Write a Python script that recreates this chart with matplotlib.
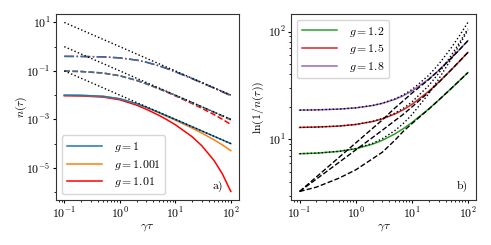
import matplotlib
matplotlib.use("Agg")
import matplotlib.pyplot as plt
from matplotlib.ticker import FixedLocator, NullFormatter

plt.rcParams["font.family"] = "serif"
plt.rcParams["font.serif"] = ["cmr10"]
plt.rcParams["mathtext.fontset"] = "cm"
plt.rcParams["axes.formatter.use_mathtext"] = True
plt.rcParams["font.size"] = 8.5
plt.rcParams["axes.linewidth"] = 0.8
plt.rcParams["axes.edgecolor"] = "#333333"
plt.rcParams["xtick.major.size"] = 2.5
plt.rcParams["ytick.major.size"] = 2.5
plt.rcParams["xtick.minor.size"] = 1.5
plt.rcParams["ytick.minor.size"] = 1.5
plt.rcParams["xtick.major.pad"] = 2
plt.rcParams["ytick.major.pad"] = 1.5

# --- panel a): n(tau) ---
tau = [0.1, 0.2, 0.5, 1, 2, 3, 5, 7, 10, 20, 30, 50, 70, 100]

n_solid_g1 = [0.00995, 0.00981, 0.00894, 0.00707, 0.00447, 0.00316, 0.00196,
              0.00141, 0.000995, 0.0005, 0.000333, 0.0002, 0.000143, 0.0001]
n_solid_g1001 = [0.00995, 0.00981, 0.00894, 0.00707, 0.00447, 0.00316, 0.00190,
                 0.00135, 0.00093, 0.00044, 0.000272, 0.000143, 0.0000895, 0.0000512]
n_solid_g101 = [0.00941, 0.00923, 0.00831, 0.00642, 0.00388, 0.00262, 0.00149,
                0.000979, 0.000603, 0.000194, 0.0000819, 0.00002, 0.00000583, 0.00000106]

n_dash_g1 = [0.098, 0.0945, 0.0817, 0.063, 0.0409, 0.0296, 0.0189,
             0.0138, 0.00979, 0.00496, 0.00331, 0.00199, 0.00142, 0.000998]
n_dash_g1001 = [0.098, 0.0945, 0.0817, 0.063, 0.0409, 0.0296, 0.0189,
                0.0138, 0.00972, 0.00489, 0.00324, 0.00192, 0.00135, 0.000934]
n_dash_g101 = [0.098, 0.0944, 0.0815, 0.0627, 0.0405, 0.0292, 0.01845,
               0.01334, 0.00933, 0.0045, 0.00287, 0.00157, 0.00102, 0.000618]

n_dd_g1 = [0.398, 0.394, 0.378, 0.344, 0.279, 0.2286, 0.1634,
           0.1255, 0.0924, 0.0485, 0.0328, 0.01985, 0.0142, 0.00996]
n_dd_g101 = [0.398, 0.394, 0.378, 0.344, 0.279, 0.2286, 0.1634,
             0.1255, 0.0919, 0.0480, 0.0323, 0.0194, 0.0137, 0.00947]

tau_asym = [0.1, 100]
asym_hi = [10, 0.01]
asym_mid = [1, 0.001]
asym_lo = [0.1, 0.0001]

n_major_ticks = [1e-5, 1e-3, 1e-1, 1e1]
n_minor_ticks = [1e-6, 1e-4, 1e-2, 1e0]

# --- panel b): ln(1/n(tau)) ---
L_g12 = [7.35, 7.44, 7.72, 8.16, 9.01, 9.79, 11.22, 12.52, 14.27, 19.1, 23.03, 29.47, 34.8, 41.6]
L_g15 = [12.89, 12.99, 13.26, 13.72, 14.61, 15.48, 17.16, 18.76, 21.04, 27.83, 33.74, 43.9, 52.62, 63.98]
L_g18 = [18.65, 18.76, 19.06, 19.57, 20.57, 21.55, 23.47, 25.32, 27.99, 36.14, 43.44, 56.25, 67.44, 82.21]

L_dash_g12 = [3.28, 3.6, 4.35, 5.2, 6.6, 7.6, 9.8, 11.8, 13.95, 19.0, 23.03, 29.47, 34.8, 41.6]
L_dash_g15 = [3.28, 4.28, 6.09, 7.96, 10.39, 12.16, 14.9, 17.0, 19.9, 27.3, 33.6, 43.9, 52.62, 63.98]
L_dash_g18 = [3.28, 4.48, 6.77, 9.24, 12.63, 15.15, 19.5, 22.7, 26.7, 35.8, 43.4, 56.25, 67.44, 82.21]

L_dot_g12 = [7.35, 7.44, 7.73, 8.21, 9.17, 10.13, 12.05, 13.96, 16.84, 26.43, 36.02, 55.2, 74.38, 103.15]
L_dot_g15 = [12.89, 12.99, 13.27, 13.73, 14.67, 15.6, 17.47, 19.33, 22.13, 31.46, 40.79, 59.45, 78.11, 106.1]
L_dot_g18 = [18.65, 18.76, 19.07, 19.58, 20.61, 21.64, 23.7, 25.76, 28.85, 39.15, 49.45, 70.05, 90.65, 121.55]

BLUE, ORANGE, RED = "#1f77b4", "#ff7f0e", "#ff0000"
GREEN, RED2, PURPLE = "#2ca02c", "#d62728", "#9467bd"
lw = 1.1

fig = plt.figure(figsize=(4.91, 2.45), dpi=100)
ax1 = fig.add_axes([0.114, 0.184, 0.373, 0.759])
ax2 = fig.add_axes([0.593, 0.184, 0.377, 0.759])

# panel a
ax1.plot(tau, n_solid_g101, color=RED, lw=lw, zorder=2)
ax1.plot(tau, n_solid_g1001, color=ORANGE, lw=lw, zorder=2)
ax1.plot(tau, n_solid_g1, color=BLUE, lw=lw, zorder=3)
ax1.plot(tau, n_dash_g101, color=RED, lw=lw, ls="--", zorder=2)
ax1.plot(tau, n_dash_g1001, color=ORANGE, lw=lw, ls="--", zorder=2)
ax1.plot(tau, n_dash_g1, color=BLUE, lw=lw, ls="--", zorder=3)
ax1.plot(tau, n_dd_g101, color=RED, lw=lw, ls="-.", zorder=2)
ax1.plot(tau, n_dd_g1, color=BLUE, lw=lw, ls="-.", zorder=3)
for yy in (asym_hi, asym_mid, asym_lo):
    ax1.plot(tau_asym, yy, color="black", lw=1.0, ls=":", zorder=4)
ax1.plot([], [], color=BLUE, lw=lw, label=r"$g=1$")
ax1.plot([], [], color=ORANGE, lw=lw, label=r"$g=1.001$")
ax1.plot([], [], color=RED, lw=lw, label=r"$g=1.01$")
ax1.set_xscale("log")
ax1.set_yscale("log")
ax1.yaxis.set_major_locator(FixedLocator(n_major_ticks))
ax1.yaxis.set_minor_locator(FixedLocator(n_minor_ticks))
ax1.yaxis.set_minor_formatter(NullFormatter())
ax1.set_xlabel(r"$\gamma\tau$", labelpad=0.5)
ax1.set_ylabel(r"$n(\tau)$", labelpad=-2)
ax1.legend(loc="lower left", handlelength=3.0, handletextpad=1.0, labelspacing=0.3)
ax1.text(0.91, 0.04, "a)", transform=ax1.transAxes, ha="right", va="bottom")

# panel b
ax2.plot(tau, L_g12, color=GREEN, lw=lw, label=r"$g=1.2$")
ax2.plot(tau, L_g15, color=RED2, lw=lw, label=r"$g=1.5$")
ax2.plot(tau, L_g18, color=PURPLE, lw=lw, label=r"$g=1.8$")
for yy in (L_dash_g12, L_dash_g15, L_dash_g18):
    ax2.plot(tau, yy, color="black", lw=1.0, ls="--")
for yy in (L_dot_g12, L_dot_g15, L_dot_g18):
    ax2.plot(tau, yy, color="black", lw=1.0, ls=":")
ax2.set_xscale("log")
ax2.set_yscale("log")
ax2.set_xlabel(r"$\gamma\tau$", labelpad=0.5)
ax2.set_ylabel(r"$\ln(1/n(\tau))$", labelpad=1.5)
ax2.legend(loc="upper left", handlelength=3.0, handletextpad=1.0, labelspacing=0.3)
ax2.text(0.955, 0.04, "b)", transform=ax2.transAxes, ha="right", va="bottom")

fig.savefig("out.png", dpi=100)
